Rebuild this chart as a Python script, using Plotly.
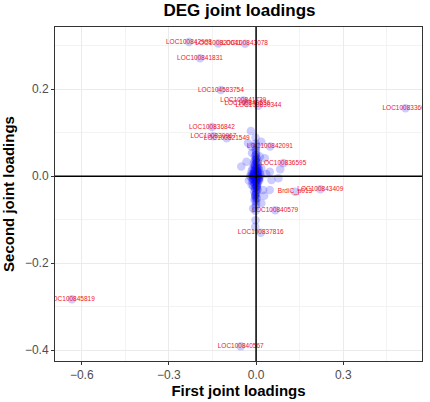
import plotly.graph_objects as go

# labelled genes (first / second joint loadings)
lab_names = ["LOC100842998", "LOC100820041", "LOC100843078", "LOC100841831",
             "LOC104583754", "LOC100841739", "LOC100840536", "LOC100830344",
             "LOC100836842", "LOC100830967", "LOC100821549", "LOC100842091",
             "LOC100836595", "LOC100843409", "BrdiC_p013", "LOC100840579",
             "LOC100837816", "LOC100845819", "LOC100840567", "LOC100833607"]
lab_x = [-0.231, -0.130, -0.038, -0.193, -0.121, -0.044, -0.030, 0.008,
         -0.152, -0.147, -0.101, 0.048, 0.094, 0.221, 0.134, 0.066,
         0.016, -0.634, -0.053, 0.514]
lab_y = [0.308, 0.305, 0.304, 0.271, 0.198, 0.174, 0.168, 0.162,
         0.113, 0.092, 0.087, 0.068, 0.030, -0.030, -0.036, -0.078,
         -0.130, -0.283, -0.391, 0.156]

# other genes, scattered round the centre
sc_x = [-0.018, -0.002, 0.018, -0.028, -0.016, -0.014, 0.030, 0.013, -0.033,
        -0.051, 0.018, 0.047, 0.083, 0.077, 0.053, 0.024, 0.047, -0.004,
        0.018, -0.010, -0.002, -0.003, -0.015, 0.035, -0.025, 0.028]
sc_y = [0.104, 0.089, 0.079, 0.076, 0.068, 0.053, 0.041, 0.045, 0.033,
        0.022, 0.018, 0.010, 0.016, -0.005, -0.009, -0.032, -0.032, -0.051,
        -0.062, -0.074, -0.101, -0.116, -0.020, 0.005, -0.010, -0.045]

# dense spike at the origin
sp_x = [-0.002, 0.000, -0.004, 0.003, -0.006, 0.002, -0.008, 0.005, -0.003,
        0.008, -0.012, 0.000, 0.010, -0.015, -0.005, 0.004, 0.013, -0.018,
        -0.008, 0.002, 0.015, -0.012, 0.007, -0.020, -0.003, 0.012, -0.015,
        0.004, -0.008, 0.009, -0.012, 0.000, 0.006, -0.006, -0.010, 0.003,
        -0.004, 0.005, -0.007, 0.001, -0.003, 0.002, -0.005, 0.000, -0.002,
        0.001, -0.001,
        0.000, -0.001, 0.001, -0.002, 0.002, -0.003, 0.003, -0.004, 0.004,
        -0.005, 0.005, -0.006, 0.006, -0.007, 0.007, -0.009, 0.009, -0.011,
        0.011, -0.013, 0.000, -0.001, 0.001, -0.002, 0.002, -0.003, 0.003,
        -0.004, 0.004, -0.006, 0.006, -0.008, 0.008, -0.010, 0.010, 0.000,
        -0.001, 0.001, -0.002, 0.002, -0.004, 0.003, -0.006, 0.005, 0.000,
        -0.002, 0.002, -0.001, 0.001, -0.003]
sp_y = [0.060, 0.050, 0.045, 0.040, 0.035, 0.032, 0.028, 0.025, 0.022,
        0.020, 0.018, 0.016, 0.014, 0.012, 0.010, 0.009, 0.007, 0.005,
        0.004, 0.003, 0.002, 0.001, 0.000, -0.001, -0.002, -0.003, -0.005,
        -0.006, -0.008, -0.009, -0.012, -0.013, -0.016, -0.018, -0.022,
        -0.024, -0.028, -0.032, -0.035, -0.038, -0.044, -0.050, -0.056,
        -0.065, -0.080, 0.070, 0.075,
        0.055, 0.048, 0.042, 0.037, 0.030, 0.026, 0.021, 0.017, 0.013,
        0.011, 0.008, 0.006, 0.003, 0.001, -0.001, -0.003, -0.005, -0.007,
        -0.010, 0.004, 0.000, -0.004, -0.008, -0.011, -0.015, -0.019, -0.023,
        -0.027, -0.030, 0.015, 0.010, 0.006, 0.002, -0.002, -0.006, 0.065,
        -0.034, -0.040, -0.046, -0.052, -0.014, -0.020, 0.024, 0.019, -0.058,
        -0.070, 0.033, 0.038, -0.025, -0.042]

x_ticks = [-0.6, -0.3, 0.0, 0.3]
y_ticks = [-0.4, -0.2, 0.0, 0.2]

fig = go.Figure()

fig.add_trace(go.Scatter(x=sp_x + sc_x + lab_x, y=sp_y + sc_y + lab_y,
                         mode="markers",
                         marker=dict(size=8.5, color="rgba(0,0,255,0.2)", line=dict(width=0)),
                         hoverinfo="skip", showlegend=False))

fig.add_trace(go.Scatter(x=lab_x, y=lab_y, mode="text", text=lab_names,
                         textposition="middle center",
                         textfont=dict(size=6.5, color="#f0141e", family="Liberation Sans, Arial"),
                         showlegend=False))

fig.add_hline(y=0, line=dict(color="black", width=1.5))
fig.add_vline(x=0, line=dict(color="black", width=1.5))

axis_common = dict(showline=True, linecolor="#333333", linewidth=1, mirror=True,
                   ticks="outside", ticklen=3, tickcolor="#333333",
                   gridcolor="#ebebeb", gridwidth=1, zeroline=False, automargin=False,
                   tickfont=dict(size=12, color="#4d4d4d", family="Liberation Sans, Arial"),
                   tickformat=".1f")

fig.update_xaxes(range=[-0.692, 0.571], tickvals=x_ticks,
                 minor=dict(tickvals=[-0.45, -0.15, 0.15, 0.45], showgrid=True,
                            gridcolor="#f3f3f3", ticklen=0),
                 title=dict(text="<b>First joint loadings</b>", standoff=4,
                            font=dict(size=15, color="black", family="Liberation Sans, Arial")),
                 **axis_common)
fig.update_yaxes(range=[-0.4246, 0.3427], tickvals=y_ticks,
                 minor=dict(tickvals=[-0.3, -0.1, 0.1, 0.3], showgrid=True,
                            gridcolor="#f3f3f3", ticklen=0),
                 title=dict(text="<b>Second joint loadings</b>", standoff=6,
                            font=dict(size=15, color="black", family="Liberation Sans, Arial")),
                 **axis_common)

fig.update_layout(
    width=430, height=402,
    margin=dict(l=55, r=8, t=27, b=41),
    paper_bgcolor="white", plot_bgcolor="white",
    title=dict(text="<b>DEG joint loadings</b>", x=0.557, xanchor="center",
               y=0.976, yanchor="middle",
               font=dict(size=17, color="black", family="Liberation Sans, Arial")),
)

# page body has an 8px margin by default; drop it so the figure fills the window
fig.write_html("out.html", config={"displayModeBar": False},
               post_script="document.body.style.margin='0';")
